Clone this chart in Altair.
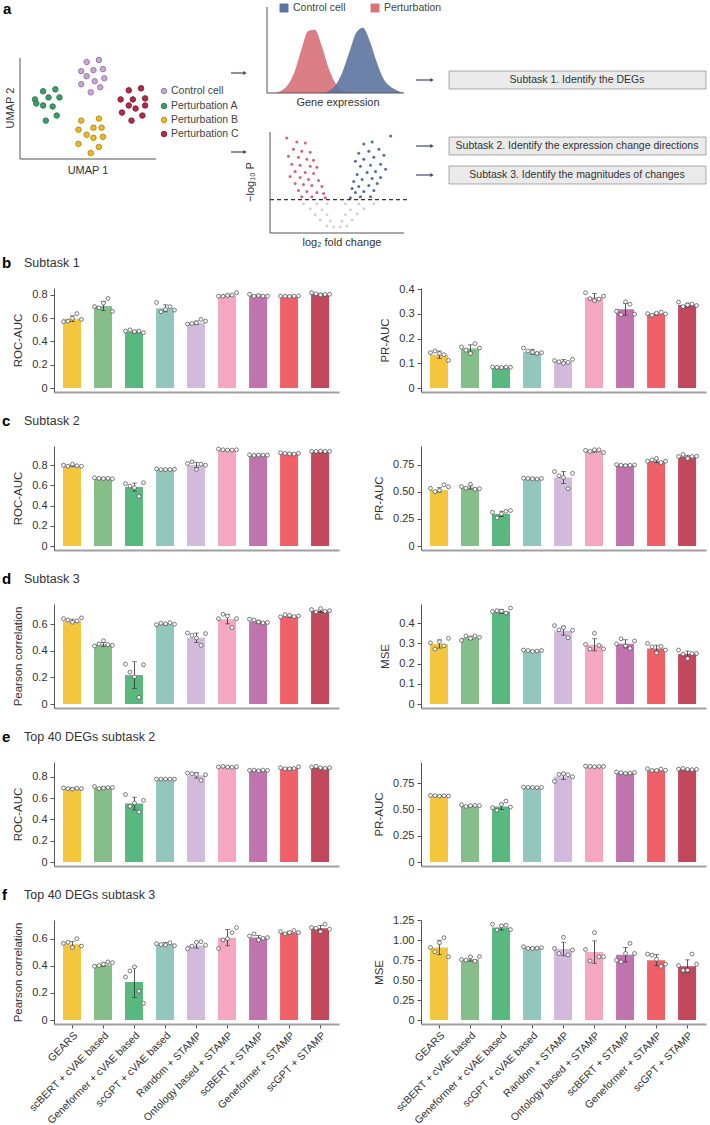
import altair as alt
import pandas as pd

FONT = "Liberation Sans"
INK = "#333333"

# ---------------- bar panels: categories & colours ----------------
methods = ["GEARS", "scBERT + cVAE based", "Geneformer + cVAE based", "scGPT + cVAE based",
           "Random + STAMP", "Ontology based + STAMP", "scBERT + STAMP",
           "Geneformer + STAMP", "scGPT + STAMP"]
bar_colors = ["#F4C63D", "#86BE8A", "#58B87F", "#93C7BE", "#D2BADC",
              "#F5A6C0", "#C074AE", "#F06068", "#C2485C"]

# b: Subtask 1
b_roc_mean = [0.596, 0.705, 0.483, 0.685, 0.561, 0.797, 0.797, 0.790, 0.806]
b_roc_sd = [0.025, 0.04, 0.01, 0.03, 0.015, 0.01, 0.005, 0.003, 0.008]
b_roc_pts = [[0.57, 0.575, 0.60, 0.64, 0.59], [0.70, 0.69, 0.73, 0.77, 0.66],
             [0.49, 0.50, 0.485, 0.49, 0.475], [0.735, 0.655, 0.675, 0.70, 0.67],
             [0.55, 0.555, 0.56, 0.59, 0.575], [0.79, 0.79, 0.795, 0.80, 0.82],
             [0.806, 0.79, 0.795, 0.79, 0.79], [0.79, 0.79, 0.787, 0.79, 0.792],
             [0.82, 0.81, 0.80, 0.805, 0.806]]
b_pr_mean = [0.135, 0.16, 0.084, 0.147, 0.108, 0.368, 0.319, 0.301, 0.336]
b_pr_sd = [0.015, 0.015, 0.002, 0.01, 0.007, 0.015, 0.024, 0.005, 0.008]
b_pr_pts = [[0.143, 0.15, 0.14, 0.135, 0.112], [0.166, 0.153, 0.14, 0.18, 0.162],
            [0.085, 0.084, 0.083, 0.085, 0.084], [0.162, 0.15, 0.145, 0.14, 0.143],
            [0.111, 0.106, 0.10, 0.104, 0.116], [0.386, 0.362, 0.354, 0.36, 0.372],
            [0.311, 0.297, 0.349, 0.339, 0.299], [0.301, 0.295, 0.303, 0.307, 0.30],
            [0.348, 0.33, 0.336, 0.34, 0.334]]
# c: Subtask 2
c_roc_mean = [0.793, 0.67, 0.583, 0.76, 0.803, 0.953, 0.90, 0.917, 0.937]
c_roc_sd = [0.008, 0.003, 0.04, 0.002, 0.025, 0.003, 0.002, 0.004, 0.002]
c_roc_pts = [[0.80, 0.79, 0.81, 0.795, 0.79], [0.675, 0.67, 0.668, 0.67, 0.665],
             [0.617, 0.593, 0.577, 0.493, 0.627], [0.763, 0.757, 0.757, 0.757, 0.76],
             [0.817, 0.833, 0.757, 0.81, 0.80], [0.96, 0.953, 0.95, 0.95, 0.953],
             [0.903, 0.897, 0.90, 0.90, 0.90], [0.923, 0.917, 0.913, 0.91, 0.917],
             [0.937, 0.937, 0.94, 0.937, 0.937]]
c_pr_mean = [0.519, 0.541, 0.297, 0.625, 0.634, 0.878, 0.75, 0.784, 0.828]
c_pr_sd = [0.02, 0.015, 0.025, 0.004, 0.055, 0.01, 0.003, 0.013, 0.012]
c_pr_pts = [[0.534, 0.503, 0.515, 0.566, 0.547], [0.55, 0.535, 0.572, 0.525, 0.53],
            [0.312, 0.26, 0.297, 0.32, 0.328], [0.628, 0.625, 0.622, 0.619, 0.625],
            [0.688, 0.65, 0.634, 0.53, 0.672], [0.884, 0.875, 0.89, 0.89, 0.865],
            [0.753, 0.747, 0.744, 0.747, 0.75], [0.784, 0.797, 0.81, 0.772, 0.784],
            [0.828, 0.847, 0.81, 0.828, 0.83]]
# d: Subtask 3
d_pc_mean = [0.623, 0.447, 0.217, 0.598, 0.497, 0.636, 0.618, 0.658, 0.70]
d_pc_sd = [0.013, 0.015, 0.1, 0.006, 0.035, 0.035, 0.01, 0.008, 0.012]
d_pc_pts = [[0.64, 0.63, 0.613, 0.623, 0.646], [0.435, 0.45, 0.475, 0.445, 0.44],
            [0.299, 0.239, 0.204, 0.05, 0.294], [0.595, 0.607, 0.602, 0.61, 0.598],
            [0.533, 0.515, 0.495, 0.44, 0.528], [0.64, 0.673, 0.66, 0.573, 0.64],
            [0.636, 0.63, 0.615, 0.608, 0.612], [0.653, 0.67, 0.665, 0.655, 0.66],
            [0.708, 0.69, 0.716, 0.695, 0.70]]
d_mse_mean = [0.297, 0.328, 0.458, 0.263, 0.363, 0.293, 0.298, 0.275, 0.247]
d_mse_sd = [0.02, 0.008, 0.01, 0.003, 0.022, 0.03, 0.02, 0.016, 0.015]
d_mse_pts = [[0.303, 0.272, 0.308, 0.288, 0.325], [0.315, 0.337, 0.325, 0.337, 0.33],
             [0.458, 0.462, 0.46, 0.45, 0.475], [0.267, 0.265, 0.26, 0.262, 0.265],
             [0.388, 0.367, 0.378, 0.328, 0.365], [0.295, 0.272, 0.35, 0.29, 0.272],
             [0.298, 0.323, 0.288, 0.275, 0.312], [0.30, 0.283, 0.253, 0.285, 0.267],
             [0.267, 0.247, 0.225, 0.25, 0.25]]
# e: Top 40 DEGs subtask 2
e_roc_mean = [0.691, 0.70, 0.549, 0.779, 0.814, 0.893, 0.864, 0.883, 0.886]
e_roc_sd = [0.005, 0.005, 0.06, 0.002, 0.025, 0.004, 0.003, 0.005, 0.005]
e_roc_pts = [[0.697, 0.69, 0.685, 0.693, 0.69], [0.71, 0.69, 0.695, 0.70, 0.70],
             [0.634, 0.524, 0.555, 0.47, 0.58], [0.779, 0.779, 0.78, 0.779, 0.779],
             [0.836, 0.83, 0.823, 0.767, 0.82], [0.893, 0.899, 0.893, 0.89, 0.895],
             [0.861, 0.864, 0.858, 0.864, 0.862], [0.886, 0.876, 0.876, 0.879, 0.895],
             [0.893, 0.90, 0.886, 0.88, 0.886]]
e_pr_mean = [0.627, 0.532, 0.528, 0.709, 0.813, 0.908, 0.848, 0.87, 0.88]
e_pr_sd = [0.004, 0.005, 0.03, 0.002, 0.03, 0.002, 0.003, 0.008, 0.004]
e_pr_pts = [[0.633, 0.63, 0.627, 0.63, 0.628], [0.544, 0.528, 0.535, 0.538, 0.535],
            [0.516, 0.491, 0.547, 0.579, 0.522], [0.712, 0.709, 0.709, 0.706, 0.709],
            [0.766, 0.832, 0.838, 0.829, 0.81], [0.911, 0.908, 0.905, 0.908, 0.908],
            [0.854, 0.848, 0.842, 0.845, 0.85], [0.886, 0.87, 0.87, 0.883, 0.872],
            [0.883, 0.889, 0.88, 0.877, 0.88]]
# f: Top 40 DEGs subtask 3
f_pc_mean = [0.56, 0.41, 0.281, 0.565, 0.552, 0.609, 0.61, 0.647, 0.679]
f_pc_sd = [0.02, 0.013, 0.115, 0.008, 0.02, 0.06, 0.015, 0.01, 0.02]
f_pc_pts = [[0.567, 0.575, 0.537, 0.602, 0.547], [0.398, 0.403, 0.413, 0.43, 0.425],
            [0.318, 0.363, 0.393, 0.214, 0.124], [0.565, 0.558, 0.555, 0.572, 0.55],
            [0.527, 0.547, 0.575, 0.58, 0.553], [0.53, 0.592, 0.602, 0.647, 0.684],
            [0.622, 0.637, 0.592, 0.605, 0.61], [0.654, 0.637, 0.647, 0.662, 0.647],
            [0.684, 0.679, 0.654, 0.709, 0.672]]
f_mse_mean = [0.907, 0.76, 1.155, 0.903, 0.887, 0.849, 0.815, 0.748, 0.672]
f_mse_sd = [0.09, 0.025, 0.03, 0.005, 0.085, 0.14, 0.09, 0.07, 0.08]
f_mse_pts = [[0.907, 0.853, 0.966, 1.029, 0.79], [0.756, 0.748, 0.79, 0.735, 0.794],
             [1.197, 1.126, 1.176, 1.185, 1.13], [0.916, 0.895, 0.895, 0.899, 0.905],
             [0.895, 0.832, 1.034, 0.815, 0.874], [0.882, 0.739, 1.092, 0.79, 0.79],
             [0.748, 0.727, 0.832, 0.958, 0.832], [0.824, 0.811, 0.76, 0.672, 0.697],
             [0.68, 0.622, 0.622, 0.824, 0.697]]

# ---------------- panel a: schematic data ----------------
umap_groups = ["Control cell", "Perturbation A", "Perturbation B", "Perturbation C"]
umap_colors = ["#C9A7D4", "#3E9C6A", "#E8BA2A", "#AE2C46"]
umap_strokes = ["#9C7AAE", "#2E7E54", "#B88F12", "#8A1E34"]
control_u1 = [4.9, 5.8, 4.5, 5.4, 6.1, 4.9, 5.5, 6.2, 4.5, 5.2, 5.9]
control_u2 = [9.6, 9.8, 8.7, 8.8, 8.9, 8.2, 7.7, 8.0, 7.4, 6.6, 7.1]
pertA_u1 = [1.7, 2.6, 1.1, 2.1, 2.9, 1.7, 2.4, 1.2, 2.7, 1.9]
pertA_u2 = [6.7, 6.9, 5.9, 6.1, 6.1, 5.3, 5.2, 5.5, 4.3, 3.8]
pertB_u1 = [4.5, 5.8, 5.4, 6.0, 4.3, 4.9, 5.4, 6.1, 4.3, 5.8, 5.2]
pertB_u2 = [3.8, 4.0, 3.1, 3.1, 2.9, 2.4, 2.1, 2.2, 1.5, 1.2, 0.6]
pertC_u1 = [8.0, 8.9, 7.4, 8.3, 9.2, 8.0, 9.2, 7.5, 8.5, 9.0, 8.2]
pertC_u2 = [6.8, 7.0, 5.9, 5.9, 6.0, 5.3, 5.3, 4.6, 5.0, 4.3, 3.8]

expr_grid = [0.0, 0.5, 1.0, 1.5, 2.0, 2.5, 3.0, 3.5, 4.0, 4.5, 5.0,
             5.5, 6.0, 6.5, 7.0, 7.5, 8.0, 8.5, 9.0, 9.5, 10.0]
dens_pert = [0.0, 0.0, 0.03, 0.12, 0.32, 0.66, 0.95, 0.97, 0.72, 0.38, 0.15,
             0.05, 0.01, 0.0, 0.0, 0.0, 0.0, 0.0, 0.0, 0.0, 0.0]
dens_ctrl = [0.0, 0.0, 0.0, 0.0, 0.0, 0.0, 0.0, 0.0, 0.0, 0.03, 0.12,
             0.32, 0.62, 0.92, 1.0, 0.80, 0.48, 0.22, 0.10, 0.04, 0.0]

down_fc = [-3.0, -2.4, -1.9, -2.6, -2.1, -1.6, -2.9, -2.3, -1.8, -1.4, -2.7, -2.2, -1.6, -1.2, -2.5, -1.9,
           -1.4, -2.8, -2.2, -1.7, -1.1, -2.5, -2.0, -1.5, -0.9, -2.3, -1.8, -1.2, -0.8, -2.1, -1.5, -0.7]
down_p = [9.4, 9.0, 8.9, 8.3, 8.1, 8.0, 7.6, 7.5, 7.3, 7.2, 6.8, 6.7, 6.6, 6.5, 6.1, 6.0,
          5.9, 5.6, 5.5, 5.3, 5.2, 4.9, 4.8, 4.7, 4.6, 4.2, 4.1, 4.0, 3.9, 3.6, 3.6, 3.5]
up_fc = [3.2, 2.1, 1.6, 2.5, 1.9, 1.3, 2.8, 2.2, 1.6, 1.1, 2.6, 2.0, 1.4, 2.9, 2.3, 1.8,
         1.2, 2.6, 2.1, 1.5, 1.0, 2.4, 1.9, 1.3, 0.9, 2.2, 1.6, 1.1, 2.0, 1.4, 0.8]
up_p = [9.6, 9.0, 8.8, 8.3, 8.1, 7.9, 7.7, 7.5, 7.3, 7.1, 6.8, 6.7, 6.6, 6.3, 6.1, 6.0,
        5.8, 5.5, 5.4, 5.3, 5.1, 4.9, 4.7, 4.6, 4.4, 4.2, 4.1, 4.0, 3.6, 3.6, 3.5]
ns_fc = [-2.0, -1.2, -0.6, 0.5, 1.3, 2.2, -1.6, -0.9, 0.8, 1.6, -1.3, -0.6, 0.5, 1.2,
         -1.0, -0.4, 0.3, 0.9, -0.6, -0.2, 0.2, 0.6]
ns_p = [2.9, 2.9, 2.9, 2.9, 2.9, 2.9, 2.4, 2.3, 2.3, 2.4, 1.8, 1.8, 1.8, 1.9,
        1.3, 1.2, 1.2, 1.3, 0.7, 0.6, 0.6, 0.7]
p_threshold = 3.3

subtasks = ["Subtask 1. Identify the DEGs",
            "Subtask 2. Identify the expression change directions",
            "Subtask 3. Identify the magnitudes of changes"]

# ---------------- layout helpers ----------------
OX = 54          # page x of the bar panels' plot origin (panel a is aligned to it)
PAD_L = 2


def ax(v):
    """page x (pixels) -> panel-a local x"""
    return v - OX


def PX(f):
    return alt.X(f"{f}:Q", scale=None, axis=None)


def PY(f):
    return alt.Y(f"{f}:Q", scale=None, axis=None)


# ---------------- panel a construction ----------------
umap_rows = []
for g, u1s, u2s in zip(umap_groups, [control_u1, pertA_u1, pertB_u1, pertC_u1],
                       [control_u2, pertA_u2, pertB_u2, pertC_u2]):
    for a, b in zip(u1s, u2s):
        umap_rows.append({"group": g, "u1": a, "u2": b})
umap_df = pd.DataFrame(umap_rows)

sx_umap = alt.Scale(domain=[0, 10], range=[ax(20), ax(156)], nice=False, zero=False)
sy_umap = alt.Scale(domain=[0, 10], range=[159, 58], nice=False, zero=False)
sx_den = alt.Scale(domain=[0, 10], range=[ax(267), ax(404)], nice=False, zero=False)
sy_den = alt.Scale(domain=[0, 1.32], range=[93, 7], nice=False, zero=False)
sx_vol = alt.Scale(domain=[-4, 4], range=[ax(270), ax(404)], nice=False, zero=False)
sy_vol = alt.Scale(domain=[0, 10], range=[233, 132], nice=False, zero=False)
grp_color = alt.Scale(domain=umap_groups, range=umap_colors)
grp_stroke = alt.Scale(domain=umap_groups, range=umap_strokes)


def axes_frame(sx, sy, x0, x1, y0, y1):
    df = pd.DataFrame({"x": [x0, x0], "x2": [x0, x1], "y": [y0, y0], "y2": [y1, y0]})
    return alt.Chart(df).mark_rule(color="#555555", strokeWidth=1).encode(
        x=alt.X("x:Q", scale=sx, axis=None), x2="x2:Q",
        y=alt.Y("y:Q", scale=sy, axis=None), y2="y2:Q")


umap_pts = alt.Chart(umap_df).mark_circle(size=30, opacity=1, strokeWidth=1).encode(
    x=alt.X("u1:Q", scale=sx_umap, axis=None),
    y=alt.Y("u2:Q", scale=sy_umap, axis=None),
    color=alt.Color("group:N", scale=grp_color, legend=None),
    stroke=alt.Stroke("group:N", scale=grp_stroke, legend=None))

leg_df = pd.DataFrame({"group": umap_groups, "px": [ax(164)] * 4, "tx": [ax(171)] * 4,
                       "py": [91, 106, 120, 134]})
leg_sym = alt.Chart(leg_df).mark_circle(size=30, opacity=1, strokeWidth=1).encode(
    x=PX("px"), y=PY("py"),
    color=alt.Color("group:N", scale=grp_color, legend=None),
    stroke=alt.Stroke("group:N", scale=grp_stroke, legend=None))
leg_txt = alt.Chart(leg_df).mark_text(align="left", baseline="middle", fontSize=10.5,
                                      color="#444444").encode(
    x=PX("tx"), y=PY("py"), text="group:N")

dens_pert_df = pd.DataFrame({"g": expr_grid, "d": dens_pert})
dens_ctrl_df = pd.DataFrame({"g": expr_grid, "d": dens_ctrl})
dens_red = alt.Chart(dens_pert_df).mark_area(
    color="#D9737B", opacity=0.92, interpolate="monotone").encode(
    x=alt.X("g:Q", scale=sx_den, axis=None), y=alt.Y("d:Q", scale=sy_den, axis=None))
dens_blue = alt.Chart(dens_ctrl_df).mark_area(
    color="#5D74A0", opacity=0.9, interpolate="monotone").encode(
    x=alt.X("g:Q", scale=sx_den, axis=None), y=alt.Y("d:Q", scale=sy_den, axis=None))

den_leg = pd.DataFrame({"px": [ax(284), ax(375)], "tx": [ax(293), ax(384)], "py": [8, 8],
                        "lab": ["Control cell", "Perturbation"]})
den_sq_b = alt.Chart(den_leg.iloc[[0]]).mark_square(size=80, color="#5D74A0", opacity=1).encode(
    x=PX("px"), y=PY("py"))
den_sq_r = alt.Chart(den_leg.iloc[[1]]).mark_square(size=80, color="#D9737B", opacity=1).encode(
    x=PX("px"), y=PY("py"))
den_txt = alt.Chart(den_leg).mark_text(align="left", baseline="middle", fontSize=10.5,
                                       color="#444444").encode(x=PX("tx"), y=PY("py"), text="lab:N")

vol_df = pd.DataFrame({"fc": down_fc + up_fc + ns_fc, "p": down_p + up_p + ns_p,
                       "kind": ["down"] * len(down_fc) + ["up"] * len(up_fc) + ["ns"] * len(ns_fc)})


def vol_layer(kind, col):
    return alt.Chart(vol_df[vol_df.kind == kind]).mark_circle(size=9, opacity=1, color=col).encode(
        x=alt.X("fc:Q", scale=sx_vol, axis=None), y=alt.Y("p:Q", scale=sy_vol, axis=None))


vol_thr = alt.Chart(pd.DataFrame({"t": [p_threshold], "a": [-4.0], "b": [4.2]})).mark_rule(
    color="#333333", strokeDash=[4, 3], strokeWidth=1.2).encode(
    x=alt.X("a:Q", scale=sx_vol, axis=None), x2="b:Q", y=alt.Y("t:Q", scale=sy_vol, axis=None))

lab_df = pd.DataFrame({"t": ["UMAP 1", "Gene expression", "log\u2082 fold change"],
                       "px": [ax(88), ax(338), ax(342)], "py": [171, 103, 243]})
lab_txt = alt.Chart(lab_df).mark_text(align="center", baseline="middle", fontSize=11,
                                      color=INK).encode(x=PX("px"), y=PY("py"), text="t:N")
rot_df = pd.DataFrame({"t": ["UMAP 2", "\u2212log\u2081\u2080 P"], "px": [ax(11), ax(251)],
                       "py": [108, 182]})
rot_txt = alt.Chart(rot_df).mark_text(align="center", baseline="middle", fontSize=11, angle=270,
                                      color=INK).encode(x=PX("px"), y=PY("py"), text="t:N")
letter_a = alt.Chart(pd.DataFrame({"t": ["a"], "px": [ax(3)], "py": [9]})).mark_text(
    align="left", baseline="middle", fontSize=15, fontWeight="bold", color="#000000").encode(
    x=PX("px"), y=PY("py"), text="t:N")

arr_df = pd.DataFrame({"x1": [ax(231), ax(231), ax(416), ax(416), ax(416)],
                       "x2": [ax(245), ax(245), ax(432), ax(432), ax(432)],
                       "y": [73, 152, 80, 146, 175]})
arr_line = alt.Chart(arr_df).mark_rule(color="#3B4A6B", strokeWidth=1.2).encode(
    x=PX("x1"), x2="x2:Q", y=PY("y"))
arr_head = alt.Chart(arr_df).mark_point(shape="triangle-right", filled=True, size=16,
                                        color="#3B4A6B", opacity=1).encode(x=PX("x2"), y=PY("y"))

box_df = pd.DataFrame({"t": subtasks, "x1": [ax(449)] * 3, "x2": [ax(706)] * 3,
                       "y1": [71, 137, 166], "y2": [89, 155, 184], "cx": [ax(577)] * 3,
                       "cy": [80, 146, 175]})
box_shadow = alt.Chart(box_df).mark_rect(color="#555555").encode(
    x=PX("x1"), x2="x2:Q", y=PY("y1"), y2="y2:Q", xOffset=alt.value(1.2), yOffset=alt.value(1.5))
box_rect = alt.Chart(box_df).mark_rect(fill="#EAEAEA", stroke="#777777", strokeWidth=0.6).encode(
    x=PX("x1"), x2="x2:Q", y=PY("y1"), y2="y2:Q")
box_txt = alt.Chart(box_df).mark_text(align="center", baseline="middle", fontSize=10.5,
                                      color=INK).encode(x=PX("cx"), y=PY("cy"), text="t:N")

panel_a = alt.layer(
    axes_frame(sx_umap, sy_umap, 0, 10, 0, 10), umap_pts, leg_sym, leg_txt,
    dens_red, dens_blue, axes_frame(sx_den, sy_den, 0, 10, 0, 1.32), den_sq_b, den_sq_r, den_txt,
    vol_layer("ns", "#D3D3D3"), vol_layer("down", "#D9646E"), vol_layer("up", "#4F6FA6"),
    vol_thr, axes_frame(sx_vol, sy_vol, -4, 4, 0, 10),
    lab_txt, rot_txt, letter_a, arr_line, arr_head, box_shadow, box_rect, box_txt
).properties(width=640, height=236).resolve_scale(x="independent", y="independent")

# ---------------- bar panels ----------------
W, H = 285, 104


def make_panel(mean, sd, pts, ytitle, ymax, ticks, fmt, show_x, letter=None, heading=None):
    summary = pd.DataFrame({"method": methods, "mean": mean,
                            "lo": [m - s for m, s in zip(mean, sd)],
                            "hi": [m + s for m, s in zip(mean, sd)]})
    rec = []
    for m, vals in zip(methods, pts):
        for i, v in enumerate(vals):
            rec.append({"method": m, "rep": i, "value": v})
    pdf = pd.DataFrame(rec)
    ysc = alt.Scale(domain=[-ymax * 0.04, ymax], nice=False, zero=False)
    yax = alt.Axis(values=ticks, title=ytitle, grid=False,
                   labelExpr=f"datum.value == 0 ? '0' : format(datum.value, '{fmt}')",
                   domainColor="#555555", domainWidth=1, tickColor="#555555", tickSize=4,
                   labelPadding=3, titlePadding=8, labelFontSize=11, titleFontSize=11.5,
                   labelColor=INK, titleColor=INK, titleFontWeight="normal")
    xsc = alt.Scale(domain=methods, paddingInner=0.39, paddingOuter=0.29)
    if show_x:
        xax = alt.Axis(title=None, labelAngle=-45, labelAlign="right", labelBaseline="top",
                       ticks=True, tickSize=4, tickColor="#555555", labelPadding=2,
                       labelFontSize=10.5, labelColor=INK, domainColor="#A0A0A0",
                       domainWidth=2, labelLimit=0, labelOverlap=False)
    else:
        xax = alt.Axis(title=None, labels=False, ticks=False, domainColor="#A0A0A0",
                       domainWidth=2)
    xenc = alt.X("method:N", scale=xsc, axis=xax, sort=methods)
    bars = alt.Chart(summary).mark_bar(opacity=1).encode(
        x=xenc, y=alt.Y("mean:Q", scale=ysc, axis=yax),
        color=alt.Color("method:N", scale=alt.Scale(domain=methods, range=bar_colors), legend=None))
    err = alt.Chart(summary).mark_errorbar(ticks=True, size=5, thickness=0.8, color="#2a2a2a").encode(
        x=xenc, y=alt.Y("lo:Q", scale=ysc, axis=yax), y2="hi:Q")
    dots = alt.Chart(pdf).mark_circle(size=15, opacity=1, fill="white", stroke="#444444",
                                      strokeWidth=0.7).encode(
        x=xenc, xOffset=alt.XOffset("rep:O", scale=alt.Scale(paddingOuter=0.1)),
        y=alt.Y("value:Q", scale=ysc, axis=yax))
    layers = [bars, err, dots]
    if letter is not None:
        layers.append(alt.Chart(pd.DataFrame({"t": [letter]})).mark_text(
            align="left", baseline="middle", fontSize=15, fontWeight="bold", color="#000000").encode(
            text="t:N", x=alt.value(-52), y=alt.value(-25)))
        layers.append(alt.Chart(pd.DataFrame({"t": [heading]})).mark_text(
            align="left", baseline="middle", fontSize=12.5, color=INK).encode(
            text="t:N", x=alt.value(-30), y=alt.value(-25)))
    return alt.layer(*layers).properties(width=W, height=H)


t02 = [0, 0.2, 0.4, 0.6, 0.8]
t01 = [0, 0.1, 0.2, 0.3, 0.4]
t025 = [0, 0.25, 0.5, 0.75]
t06 = [0, 0.2, 0.4, 0.6]

charts = [
    make_panel(b_roc_mean, b_roc_sd, b_roc_pts, "ROC-AUC", 0.86, t02, ".1f", False, "b", "Subtask 1"),
    make_panel(b_pr_mean, b_pr_sd, b_pr_pts, "PR-AUC", 0.405, t01, ".1f", False),
    make_panel(c_roc_mean, c_roc_sd, c_roc_pts, "ROC-AUC", 0.99, t02, ".1f", False, "c", "Subtask 2"),
    make_panel(c_pr_mean, c_pr_sd, c_pr_pts, "PR-AUC", 0.925, t025, ".2f", False),
    make_panel(d_pc_mean, d_pc_sd, d_pc_pts, "Pearson correlation", 0.75, t06, ".1f", False, "d", "Subtask 3"),
    make_panel(d_mse_mean, d_mse_sd, d_mse_pts, "MSE", 0.495, t01, ".1f", False),
    make_panel(e_roc_mean, e_roc_sd, e_roc_pts, "ROC-AUC", 0.94, t02, ".1f", False, "e", "Top 40 DEGs subtask 2"),
    make_panel(e_pr_mean, e_pr_sd, e_pr_pts, "PR-AUC", 0.95, t025, ".2f", False),
    make_panel(f_pc_mean, f_pc_sd, f_pc_pts, "Pearson correlation", 0.74, t06, ".1f", True, "f", "Top 40 DEGs subtask 3"),
    make_panel(f_mse_mean, f_mse_sd, f_mse_pts, "MSE", 1.25, [0, 0.25, 0.5, 0.75, 1.0, 1.25], ".2f", True),
]

grid = alt.concat(*charts, columns=2, spacing={"row": 21, "column": 34},
                  align="each").resolve_scale(color="independent")

chart = alt.vconcat(panel_a, grid, spacing=8).resolve_scale(
    color="independent", stroke="independent"
).properties(
    padding={"left": PAD_L, "top": 0, "right": 0, "bottom": 0}
).configure(font=FONT).configure_view(stroke=None)

chart.save("out.html", embed_options={"renderer": "svg", "actions": False})
